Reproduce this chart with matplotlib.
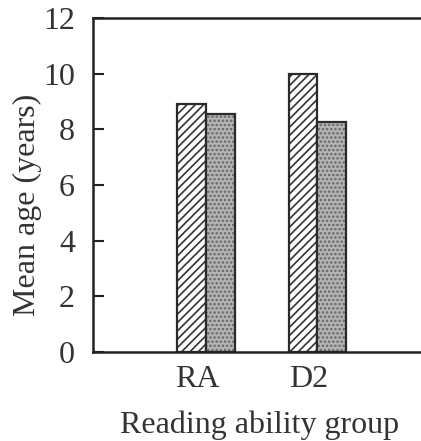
import matplotlib
matplotlib.use('Agg')
import matplotlib.pyplot as plt
import numpy as np

# ---- data ----
GROUPS = ['RA', 'D2']
SERIES_A = [8.9, 10.0]   # hatched bars
SERIES_B = [8.55, 8.25]  # stippled bars

# ---- style ----
FONT = 'Liberation Serif'
FONT_SIZE = 23
BAR_WIDTH = 0.26
EDGE = '#2a2a2a'
TEXT = '#333333'

plt.rcParams['font.family'] = FONT
plt.rcParams['hatch.linewidth'] = 1.2

fig = plt.figure(figsize=(4.21, 4.41), dpi=100)
ax = fig.add_axes([0.2209, 0.2018, 0.789, 0.7574])

x = np.arange(1, len(GROUPS) + 1)
# hatched series
ax.bar(x - BAR_WIDTH / 2, SERIES_A, BAR_WIDTH, facecolor='white',
       edgecolor='#333333', linewidth=0, hatch='////')
ax.bar(x - BAR_WIDTH / 2, SERIES_A, BAR_WIDTH, fill=False,
       edgecolor=EDGE, linewidth=1.6)
# stippled series
ax.bar(x + BAR_WIDTH / 2, SERIES_B, BAR_WIDTH, facecolor='#b4b4b4',
       edgecolor='#666666', linewidth=0, hatch='....')
ax.bar(x + BAR_WIDTH / 2, SERIES_B, BAR_WIDTH, fill=False,
       edgecolor=EDGE, linewidth=1.6)

ax.set_xlim(-0.02, 2.97)
ax.set_ylim(0, 12)
ax.set_yticks(np.arange(0, 13, 2))
ax.set_xticks(x - 0.08)
ax.set_xticklabels(GROUPS)

for side in ['left', 'bottom', 'top', 'right']:
    ax.spines[side].set_linewidth(1.8)
    ax.spines[side].set_color('#222222')

ax.tick_params(axis='y', direction='in', length=8, width=1.5, pad=13,
               labelsize=FONT_SIZE, colors='#222222', labelcolor=TEXT)
ax.tick_params(axis='x', length=0, pad=9, labelsize=FONT_SIZE, labelcolor=TEXT)

ax.set_ylabel('Mean age (years)', fontsize=FONT_SIZE, color=TEXT)
ax.yaxis.set_label_coords(-0.154, 0.44)
ax.set_xlabel('Reading ability group', fontsize=FONT_SIZE, color=TEXT, labelpad=12)

fig.savefig('out.png', dpi=100)
